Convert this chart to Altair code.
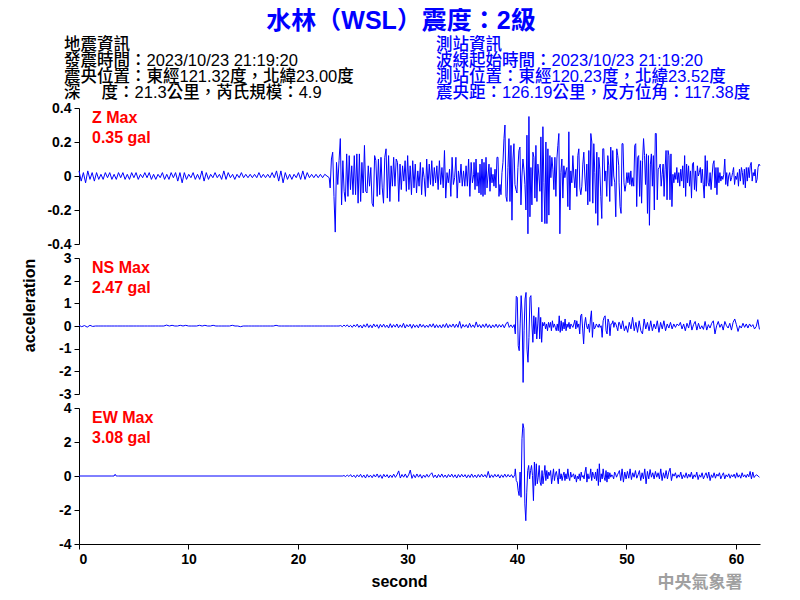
import altair as alt
import numpy as np
import pandas as pd

# ---------------- text content ----------------
TITLE = "水林（WSL）震度：2級"
INFO_LEFT = ["地震資訊", "發震時間：2023/10/23 21:19:20",
             "震央位置：東經121.32度，北緯23.00度", "深　 度：21.3公里，芮氏規模：4.9"]
INFO_RIGHT = ["測站資訊", "波線起始時間：2023/10/23 21:19:20",
              "測站位置：東經120.23度，北緯23.52度", "震央距：126.19公里，反方位角：117.38度"]
PANEL_NAMES = ["Z Max", "NS Max", "EW Max"]
PANEL_PEAKS = ["0.35 gal", "2.47 gal", "3.08 gal"]
WATERMARK = "中央氣象署"
X_TICKS = [0, 10, 20, 30, 40, 50, 60]
Z_TICKS = [-0.4, -0.2, 0, 0.2, 0.4]
NS_TICKS = [-3, -2, -1, 0, 1, 2, 3]
EW_TICKS = [-4, -2, 0, 2, 4]

# ---------------- trace values (in 0.01 gal) ----------------
Z_QUIET = [3, -3, 2, -4, 3, -2, 2, -3, 2, -2, 1, -2, 2, -1, 2, -2, 1, -2, 2, -1,
           2, -2, 1, -2, 2, -1, 2, -2, 1, -1, 2, -1, 2, -2, 1, -2, 1, -1, 2, -2,
           1, -2, 2, -1, 2, -3, 2, -4, 2, -2, 1, -1, 2, -2, 1, -2, 3, -3, 2, -2,
           1, -1, 2, -1, 1, -2, 3, -2, 2, -1, 1, -2, 1, -1, 2, -1, 1, -1, 1, -1,
           1, -1, 2, -1, 1, -1, 1, -1, 2, -1, 3, -3, 3, -4, 2, -2, 1, -2, 1, -1,
           2, -2, 3, -2, 2, -1, 1, -1, 1, -1, 1, -1, 1, 0, -1]
Z_ACT1 = [-7, 10, 14, -12, -33, 8, -5, 9, 22, -17, 9, -9, -15, 13, -12, 12, -8, 6, -11, 12,
          -11, 13, -16, 13, -15, 8, -10, 18, -9, -10, 6, -6, 5, -16, -18, 12, 9, -12, 10, -11,
          11, -7, -16, 11, 16, -13, 12, -15, 6, -6, 11, -6, 10, 8, -15, 7, -8, 6, -3, 9,
          -9, 12, -8, 6, -11, 9, -7, 7, -10, 3, -6, 8, -11, 5, -1, -12, 10, -7, 7, -5,
          9, -6, 5, -4, 6, -8, 9, -5, 5, -7, 15, -13, 2, -4, 4, -12, 11, -5, -1, 11,
          -13, 3, -4, 7, -6, 3, -6, 6, -6, 10, -12, 8, -4, 1]
Z_ACT2 = [8, -8, 10, -6, 2, -10, 7, -11, 10, -12, 8, -11, 11, -7, 0, 7, -9, 5, -4, 1,
          -6, 4, -7, 11, 11, -12, -5, -11, 2, 8, 22, 30, -12, -15, 5, 22, -15, 18, -26, 10,
          19, -5, -8, -10, 5, 15, 17, -17, 0, 10, 4, -5, -20, 24, -34, 35, -24, 5, -17, 14,
          11, -13, 18, -15, 7, 0, -9, 23, -27, 29, -4, -28, 20, -28, 16, -23, 12, -1, 11, 4,
          -8, 11, -12, 10, 18, 25, -34, 2, 10, -13, 6, -1, 3, 5, -18, 26, -20, 3, -4, 12,
          0, -7, 4, -12, 12, 16, -7, -11, -6, 7, 14, 0, -9, 7, -17, 15, -15, 25, 20, -16,
          19, 2, -22, 14, -29, 11, 4, -12, -25, 16, 16, -3, 3, -12, 12, 6, -15, 17, -6, 15,
          0, -4, -24, 16, 12, 6]
Z_ACT3 = [-4, -18, -22, 19, 19, -4, -9, -5, 2, -4, 2, -5, 3, -6, -1, -6, 18, 19, -18, 11,
          12, -12, 9, -16, 9, 22, 12, -5, 13, -22, 12, -29, 7, 13, -6, 12, -20, 25, 25, -14,
          4, 5, 7, -6, 1, 7, -12, 4, 15, -14, 15, 12, -14, 13, -18, 1, -4, 2, -2, 5,
          -4, 2, -6, 4, -3, 6, -7, 12, -12, 7, -4, 6, -6, 3, -13, 7, 8, -8, 3, -9,
          6, 0, 2, 5, -4, 4, -5, -13, 12, -6, 9, -4, -6, 2, -8, 0, 7, 9, -7, 5,
          -11, 5, -4, 2, -3, 0, -2, 1, 10, -5, 2, -6, 0, 2, -3, -1, 2, 5, -5, 0,
          -2, 2, -6, 4, -3, 5, 2, -5, 4, -7, 5, -3, 5, -1, 6, 8, -3, 2, 0, 4,
          -4, -2, 5, 7, 6]

NS_QUIET = [3, -3, 2, -5, 3, -2, 0, 0,
            0, 0, 0, 0, 0, 0, 0, 0,
            0, 0, 0, 0, 0, 0, 0, 0,
            0, 0, 0, 0, 0, 0, 0, 0,
            4, 0, 3, 0, 0, 3, 0, 3,
            0, 0, 0, 0, 3, 0, 3, 0,
            0, 3, 0, 0, 0, 0, 0, 0,
            3, 0, 0, -3, 0, 0, 0, 0,
            0, 0, 0, 0, 0, 0, 0, 0,
            3, 0, 0, 0, 0, 0, 0, 0,
            0, 0, 0, 0, 0, 0, 0, 0,
            0, 0, 0, 0, 0, 0, 0, 0]
NS_NOISE = [2, -3, 4, -2, 5, -4, 3, -6, 5, -3, 8, -6, 4, -9, 6, -5, 10, -7, 5, -8,
            9, -4, 6, -10, 7, -5, 8, -6, 4, -9, 10, -7, 6, -5, 9, -8, 5, -6, 12, -9,
            6, -4, 8, -10, 7, -6, 5, -8, 9, -5, 6, -7, 4, -6, 8, -5, 10, -8, 6, -7,
            5, -9, 7, -6, 11, -8, 6, -5, 9, -7, 8, -6, 20, -10, 7, -5, 6, -8, 12, -6,
            5, -7, 18, -5, 6, -8, 7, -6, 10, -7, 6, -9, 5, -6, 8, -7, 6, -5, 7, -8,
            9, 18, -6, 5, -7, 6]
NS_MAIN = [-35, 131, 126, -87, -109, 9, 134, 53, -249, -21, 119, 148, -102, -160, -50, 126, 134, 9, -72, 45,
           -35, 38, -57, 9, 82, -57, 38, -72, 16, 1, 16, -13, 9, -21, 16, -6, 16, -21, 23, -6,
           9, -6, -21, 9, -21, 45, -28, 23, -21, 16, -13, 31, -21, 9, -6, 16, -13, 9, 1, -6,
           9, 26, -13, 23, -6, 9, -35, 45, 53, -13, -79, 9, 38, 1, -13, 9, -28, 31, 67, -50,
           16, -13, -6, 9, 1, -6, 9, -6, 1, -50, 23, 38, 45, -21, -35, 31, 16, -43, 9, 9,
           23, -6, 16, 9, -6, -21, 16]
NS_CODA = [16, -13, 23, -21, 1, -28, 16, -13, 38, -21, 16, -28, 23, -21, -35, 31, -13, 16, -21, 23,
           -21, 9, -13, 23, -28, 16, -13, 23, -21, 9, -9, 16, -13, 9, -6, 9, 1, 16, -13, 9,
           -21, 12, -9, 26, -18, 6, 20, -18, 12, -13, 1, -15, 20, -18, 6, -9, 12, 23, -35, 1,
           20, -6, 9, -18, 20, 1, -9, 12, -18, 16, 31, 6, -24, 1, -9, 12, -6, 9, -9, 9,
           -3, 6, -13, -3, 28, -15]

EW_A1 = [0, 0]
EW_A2 = [0, 0, 10, 0, 0]
EW_A3 = [0, 0]
EW_NOISE = [3, -4, 6, -3, 8, -6, 5, -9, 7, -5, 10, -8, 6, -12, 9, -7, 5, -10, 8, -6,
            12, -9, 7, -14, 10, -6, 8, -11, 6, -9, 11, -8, 7, 30, -12, 9, -7, 12, -10, 6,
            35, -14, 8, -10, 12, -7, 9, -13, 6, -8, 10, -7, 8, 19, -9, 6, -11, 9, -7, 12,
            -8, 6, -10, 9, -6, 11, -8, 7, -12, 9, -7, 10, -6, 8, -11, 7, -9, 12, -8, 6,
            -10, 9, -7, 11, -6, 8, -9, 27, -11, 7, -8, 10, -6, 9, -12, 7, -8, 11, -7, 9,
            -6, 8, -10, 7]
EW_MAIN = [42, -27, -36, -86, -115, 23, -125, 219, 308, 278, -164, -263, -95, 32, 62, -17, 32, 62, 3, -145,
           82, -56, 72, -46, -7, 62, -36, -56, 32, -46, 3, 62, -27, 32, -17, 23, 3, 32, -46, -7,
           42, -27, 13, 27, -7, -46, 42, -17, 13, -27, 3, 23, -27, 13, -17, 42, -7, -27, 23, -7,
           3, 13, -17, 7, -36, -1, -17, 13, -27, 23, -7, 3, -17, 23, 52, -36, 13, -17, -7, 42,
           -27, 23, 3, -17, 23, -27, 42, -56, 72, -36, 13, -17, 42, -7, -27, 32, -36, 23, -17, 19,
           -7, 7, -1, -17, 23, 13, -7, 7, 19]
EW_CODA = [32, -27, 42, -36, 23, -17, 27, -13, 42, -21, 19, -7, 32, -13, 7, 32, -27, 19, -17, 42,
           -46, 27, -17, 38, -7, 19, -17, 27, -7, 19, -17, 42, -27, 19, -13, 32, -17, 23, 46, -27,
           13, -1, 19, -13, 7, -7, 23, -17, 7, -9, 19, -13, 11, -7, 23, -17, 7, -7, 23, -21,
           7, -7, 19, -17, 3, 19, -13, 23, -27, 7, -9, 19, -13, 11, -1, 19, -17, 3, 19, -17,
           7, -5, 13, -13, 7, -5, 11, -13, 19, -7, 7, -13, 19, -5, 7, -9, 11, -5, 27, -17,
           23, -9, 3, 7, -1, -7]

# (start second, end second, values) -- values evenly spaced inside each segment
Z_SEGMENTS = [(0.0, 22.85, Z_QUIET), (22.94, 36.05, Z_ACT1), (36.08, 49.30, Z_ACT2), (49.33, 62.2, Z_ACT3)]
NS_SEGMENTS = [(0.0, 23.75, NS_QUIET), (23.9, 39.75, NS_NOISE), (39.85, 49.3, NS_MAIN), (49.36, 62.15, NS_CODA)]
EW_SEGMENTS = [(0.0, 3.0, EW_A1), (3.1, 3.5, EW_A2), (3.6, 24.1, EW_A3), (24.2, 39.8, EW_NOISE),
               (39.85, 49.27, EW_MAIN), (49.36, 62.15, EW_CODA)]


def build(segments):
    ts, vs = [], []
    for a, b, vals in segments:
        ts.extend(np.linspace(a, b, len(vals)).tolist())
        vs.extend((np.asarray(vals, dtype=float) / 100.0).tolist())
    return pd.DataFrame({"t": ts, "a": vs})


FONT = "Liberation Sans"
MIXED = "Liberation Sans, Noto Sans CJK TC"
W, H = 681, 136


def text_layer(s, x, y, size, color="black", weight="normal", align="left", font=MIXED):
    return alt.Chart(pd.DataFrame({"s": [s]})).mark_text(
        x=x, y=y, align=align, baseline="alphabetic", fontSize=size,
        fontWeight=weight, color=color, font=font).encode(text="s:N")


def panel(df, dom, ticks, idx, bottom=False, ytitle=False, extras=()):
    if bottom:
        xaxis = alt.Axis(values=X_TICKS, labelExpr="'' + datum.value", title="second",
                         titleX=320, titleY=42, titleBaseline="alphabetic", titleAlign="center",
                         titleFont=FONT, titleFontSize=16, titleFontWeight="bold", titleColor="black")
        xenc = alt.X("t:Q", scale=alt.Scale(domain=[0, 62.2], nice=False, zero=False), axis=xaxis)
    else:
        xenc = alt.X("t:Q", scale=alt.Scale(domain=[0, 62.2], nice=False, zero=False), axis=None)
    if ytitle:
        yaxis = alt.Axis(values=ticks, labelExpr="'' + datum.value", title="acceleration",
                         titleX=-50, titleY=47, titleBaseline="middle", titleAlign="center",
                         titleFont=FONT, titleFontSize=16, titleFontWeight="bold", titleColor="black")
    else:
        yaxis = alt.Axis(values=ticks, labelExpr="'' + datum.value", title=None)
    line = alt.Chart(df).mark_line(color="#0000FF", strokeWidth=1).encode(
        x=xenc,
        y=alt.Y("a:Q", scale=alt.Scale(domain=dom, nice=False, zero=False), axis=yaxis),
    )
    layers = [line,
              text_layer(PANEL_NAMES[idx], 13, 15, 16, color="#FF0000", weight="bold", font=FONT),
              text_layer(PANEL_PEAKS[idx], 13, 35, 16, color="#FF0000", weight="bold", font=FONT)]
    layers.extend(extras)
    return alt.layer(*layers).properties(width=W, height=H)


header = [text_layer(TITLE, 322, -78.7, 25, color="#0000FF", weight="bold", align="center")]
for i, s in enumerate(INFO_LEFT):
    header.append(text_layer(s, -15, -57.7 + 16 * i, 16.5, color="black", weight=500))
for i, s in enumerate(INFO_RIGHT):
    header.append(text_layer(s, 357, -57.7 + 16 * i, 16.5, color="#0000FF", weight=500))

footer = [text_layer(WATERMARK, 621, 180, 17, color="#A0A0A0", weight="bold", align="center",
                     font="Noto Sans CJK TC")]

p1 = panel(build(Z_SEGMENTS), [-0.4, 0.4], Z_TICKS, 0, extras=header)
p2 = panel(build(NS_SEGMENTS), [-3, 3], NS_TICKS, 1, ytitle=True)
p3 = panel(build(EW_SEGMENTS), [-4, 4], EW_TICKS, 2, bottom=True, extras=footer)

chart = alt.vconcat(p1, p2, p3, spacing=14, bounds="flush").properties(
    padding={"left": 12, "top": 1, "right": 5, "bottom": 5},
    autosize=alt.AutoSizeParams(type="pad"),
).configure_view(stroke=None).configure_axis(
    domainColor="black", domainWidth=1, tickColor="black", tickSize=5, tickWidth=1,
    labelFont=FONT, labelFontSize=14, labelFontWeight="bold", labelColor="black",
    labelPadding=3, grid=False,
)

chart.save("out.html", embed_options={"renderer": "svg", "actions": False})
